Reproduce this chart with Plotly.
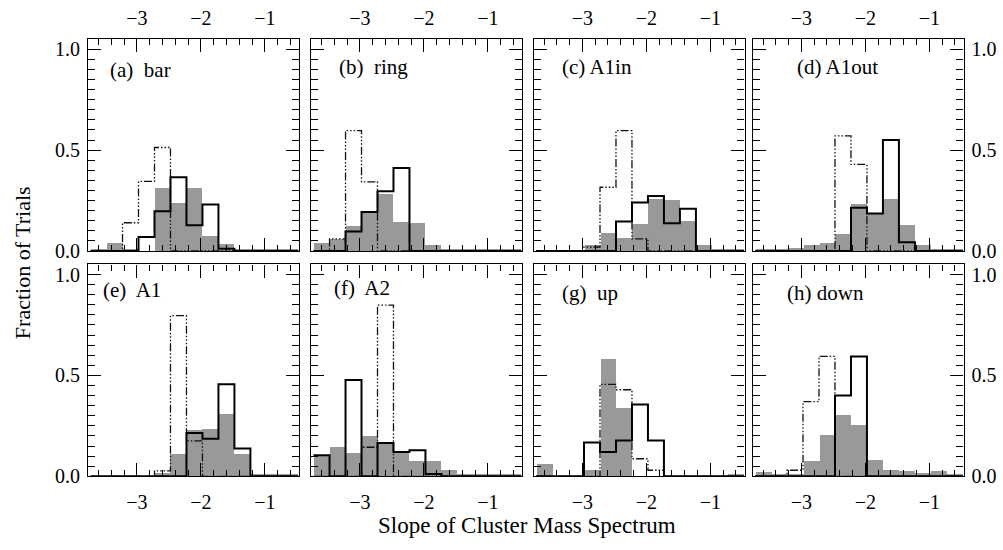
import plotly.graph_objects as go

# Histogram bins of the cluster mass-spectrum slope (width 0.25)
bin_edges = [-3.725, -3.475, -3.225, -2.975, -2.725, -2.475, -2.225,
             -1.975, -1.725, -1.475, -1.225, -0.975, -0.725, -0.475]

panel_labels = ["(a)\u00a0 bar", "(b)\u00a0 ring", "(c) A1in", "(d) A1out",
                "(e)\u00a0 A1", "(f)\u00a0 A2", "(g)\u00a0 up", "(h) down"]

# Fraction of trials per bin: filled (gray), solid (black), dash-dot
gray_a = [0.005, 0.04, 0.005, 0.0, 0.314, 0.238, 0.31, 0.076, 0.036, 0.005, 0.005, 0.005, 0.005]
solid_a = [0, 0, 0, 0.07, 0.197, 0.366, 0.128, 0.23, 0.011, 0, 0, 0, 0]
dash_a = [0, 0, 0.14, 0.345, 0.513, 0, 0, 0, 0, 0, 0, 0, 0]

gray_b = [0.039, 0.057, 0.125, 0.19, 0.283, 0.144, 0.138, 0.031, 0.005, 0.005, 0.005, 0.005, 0.005]
solid_b = [0, 0, 0.097, 0.194, 0.296, 0.411, 0, 0, 0, 0, 0, 0, 0]
dash_b = [0, 0.06, 0.597, 0.343, 0, 0, 0, 0, 0, 0, 0, 0, 0]

gray_c = [0, 0, 0, 0.03, 0.09, 0.065, 0.135, 0.255, 0.25, 0.15, 0.03, 0.005, 0.005]
solid_c = [0, 0, 0, 0, 0, 0.146, 0.241, 0.273, 0.138, 0.209, 0, 0, 0]
dash_c = [0, 0, 0, 0.02, 0.316, 0.597, 0.06, 0, 0, 0, 0, 0, 0]

gray_d = [0.005, 0.01, 0.015, 0.028, 0.04, 0.084, 0.23, 0.19, 0.255, 0.13, 0.028, 0.006, 0.005]
solid_d = [0, 0, 0, 0, 0, 0, 0.214, 0.186, 0.55, 0.044, 0, 0, 0]
dash_d = [0, 0, 0, 0, 0, 0.571, 0.429, 0, 0, 0, 0, 0, 0]

gray_e = [0, 0, 0, 0, 0.015, 0.11, 0.225, 0.23, 0.307, 0.108, 0.005, 0.005, 0.005]
solid_e = [0, 0, 0, 0, 0, 0, 0.214, 0.186, 0.456, 0.138, 0, 0, 0]
dash_e = [0, 0, 0, 0, 0.027, 0.796, 0.176, 0, 0, 0, 0, 0, 0]

gray_f = [0.1, 0.144, 0.113, 0.197, 0.157, 0.117, 0.076, 0.076, 0.028, 0.005, 0.005, 0.005, 0.005]
solid_f = [0.104, 0, 0.477, 0, 0.165, 0.121, 0.129, 0.011, 0, 0, 0, 0, 0]
dash_f = [0, 0, 0, 0.144, 0.848, 0, 0, 0, 0, 0, 0, 0, 0]

gray_g = [0.057, 0, 0, 0.03, 0.581, 0.335, 0, 0, 0, 0, 0, 0, 0.005]
solid_g = [0, 0, 0, 0.168, 0.121, 0.178, 0.356, 0.178, 0, 0, 0, 0, 0]
dash_g = [0, 0, 0, 0, 0.456, 0.429, 0.087, 0.03, 0, 0, 0, 0, 0]

gray_h = [0.02, 0.005, 0.005, 0.073, 0.202, 0.3, 0.254, 0.081, 0.028, 0.024, 0.016, 0.024, 0.005]
solid_h = [0, 0, 0, 0, 0, 0.4, 0.594, 0, 0, 0, 0, 0, 0]
dash_h = [0, 0, 0.03, 0.37, 0.594, 0, 0, 0, 0, 0, 0, 0, 0]

panels = [(gray_a, solid_a, dash_a), (gray_b, solid_b, dash_b),
          (gray_c, solid_c, dash_c), (gray_d, solid_d, dash_d),
          (gray_e, solid_e, dash_e), (gray_f, solid_f, dash_f),
          (gray_g, solid_g, dash_g), (gray_h, solid_h, dash_h)]

W, H = 1003, 550
FONT = "Liberation Serif"
TICK_SIZE = 20
col_left = [88, 311, 533.5, 752.5]
panel_w = 211
row_top = [39, 269.3]
panel_h = 216.6
label_off = [(20, 31.5), (25.7, 28.4), (26.5, 28), (42.5, 28),
             (12.7, 26), (20.7, 24), (26.5, 29), (32.5, 29)]

centers = [(bin_edges[i] + bin_edges[i + 1]) / 2 for i in range(len(bin_edges) - 1)]
widths = [bin_edges[i + 1] - bin_edges[i] for i in range(len(bin_edges) - 1)]

fig = go.Figure()
layout = dict(
    width=W, height=H, margin=dict(l=0, r=0, t=0, b=0),
    paper_bgcolor="white", plot_bgcolor="white", showlegend=False,
    font=dict(family=FONT, size=20, color="black"),
    bargap=0, annotations=[],
)

for i, (gray, solid, dash) in enumerate(panels):
    r, c = divmod(i, 4)
    n = i + 1
    xa = "x" if n == 1 else f"x{n}"
    ya = "y" if n == 1 else f"y{n}"

    fig.add_trace(go.Bar(x=centers, y=gray, width=widths,
                         marker=dict(color="#999999", line=dict(width=0)),
                         xaxis=xa, yaxis=ya, hoverinfo="skip"))
    fig.add_trace(go.Scatter(x=bin_edges, y=list(dash) + [dash[-1]], mode="lines",
                             line=dict(shape="hv", color="#111111", width=1.3,
                                       dash="8px,2px,1.5px,2px,1.5px,2px,1.5px,2px"),
                             xaxis=xa, yaxis=ya, hoverinfo="skip"))
    fig.add_trace(go.Scatter(x=bin_edges, y=list(solid) + [solid[-1]], mode="lines",
                             line=dict(shape="hv", color="black", width=2),
                             xaxis=xa, yaxis=ya, hoverinfo="skip"))

    x0 = col_left[c] / W
    x1 = (col_left[c] + panel_w) / W
    y1 = 1 - row_top[r] / H
    y0 = 1 - (row_top[r] + panel_h) / H

    layout["xaxis" if n == 1 else f"xaxis{n}"] = dict(
        domain=[x0, x1], range=[-3.765, -0.465], anchor=ya,
        side="top" if r == 0 else "bottom",
        ticklabelstandoff=5 if r == 0 else 8,
        showline=True, linecolor="black", linewidth=1.2, mirror="allticks",
        ticks="inside", ticklen=13, tickwidth=1, tickcolor="black",
        tick0=0, dtick=1, showgrid=False, zeroline=False,
        minor=dict(ticks="inside", ticklen=6, tickwidth=1, tickcolor="black",
                   tick0=0, dtick=0.2, showgrid=False),
        tickfont=dict(family=FONT, size=TICK_SIZE),
    )
    layout["yaxis" if n == 1 else f"yaxis{n}"] = dict(
        domain=[y0, y1], range=[0, 1.05], anchor=xa,
        side="right" if c == 3 else "left",
        showticklabels=c in (0, 3),
        ticklabelstandoff=3,
        showline=True, linecolor="black", linewidth=1.2, mirror="allticks",
        ticks="inside", ticklen=13, tickwidth=1, tickcolor="black",
        tick0=0, dtick=0.5, tickformat=".1f", showgrid=False, zeroline=False,
        minor=dict(ticks="inside", ticklen=7, tickwidth=1, tickcolor="black",
                   tick0=0, dtick=0.05, showgrid=False),
        tickfont=dict(family=FONT, size=TICK_SIZE),
    )

    dx, dy = label_off[i]
    layout["annotations"].append(dict(
        text=panel_labels[i], xref=f"{xa} domain", yref=f"{ya} domain",
        x=dx / panel_w, y=1 - dy / panel_h, xanchor="left", yanchor="middle",
        showarrow=False, font=dict(family=FONT, size=21, color="black"),
    ))

layout["annotations"].append(dict(
    text="Fraction of Trials", xref="paper", yref="paper",
    x=22 / W, y=1 - 268 / H, xanchor="center", yanchor="middle",
    textangle=-90, showarrow=False, font=dict(family=FONT, size=22, color="black"),
))
layout["annotations"].append(dict(
    text="Slope of Cluster Mass Spectrum", xref="paper", yref="paper",
    x=527 / W, y=1 - 536 / H, xanchor="center", yanchor="middle",
    showarrow=False, font=dict(family=FONT, size=23, color="black"),
))

fig.update_layout(**layout)
fig.write_html("out.html")
